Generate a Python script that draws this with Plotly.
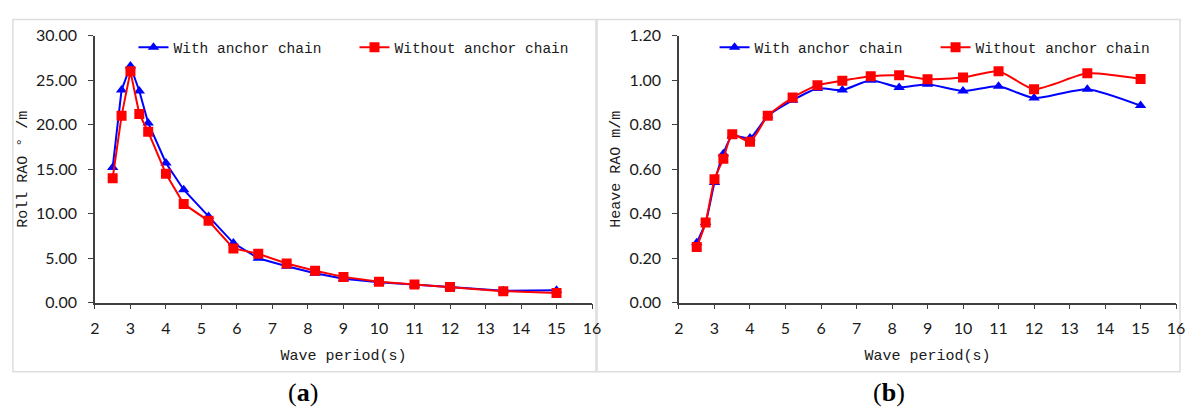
import plotly.graph_objects as go

period = [2.5, 2.75, 3, 3.25, 3.5, 4, 4.5, 5.2, 5.9, 6.6, 7.4, 8.2, 9, 10, 11, 12, 13.5, 15]

roll_with = [15.2, 23.9, 26.6, 23.8, 20.2, 15.7, 12.7, 9.7, 6.7, 5.0, 4.1, 3.3, 2.7, 2.3, 2.0, 1.75, 1.35, 1.4]
roll_without = [14.0, 21.0, 26.0, 21.2, 19.2, 14.5, 11.1, 9.2, 6.1, 5.5, 4.4, 3.6, 2.9, 2.35, 2.05, 1.75, 1.3, 1.1]

heave_with = [0.27, 0.36, 0.54, 0.67, 0.75, 0.74, 0.84, 0.91, 0.963, 0.956, 1.0, 0.968, 0.982, 0.952, 0.973, 0.92, 0.96, 0.886]
heave_without = [0.25, 0.36, 0.555, 0.647, 0.757, 0.724, 0.84, 0.922, 0.978, 0.998, 1.018, 1.022, 1.005, 1.012, 1.04, 0.96, 1.031, 1.006]

names = ["With anchor chain", "Without anchor chain"]
x_ticks = list(range(2, 17))
roll_ticks = [0, 5, 10, 15, 20, 25, 30]
heave_ticks = [0, 0.2, 0.4, 0.6, 0.8, 1.0, 1.2]

W, H = 1192, 416
BLUE = "#0000FF"
RED = "#FF0000"
MONO = "Liberation Mono, DejaVu Sans Mono, monospace"
TICKF = "Lato, Open Sans, sans-serif"
TXT = "#1a1a1a"

fig = go.Figure()

# Panel (a)
fig.add_trace(go.Scatter(x=period, y=roll_with, name=names[0], mode="lines+markers",
                         line=dict(color=BLUE, width=2), marker=dict(symbol="triangle-up", size=10, color=BLUE),
                         xaxis="x", yaxis="y", legend="legend"))
fig.add_trace(go.Scatter(x=period, y=roll_without, name=names[1], mode="lines+markers",
                         line=dict(color=RED, width=2), marker=dict(symbol="square", size=10, color=RED),
                         xaxis="x", yaxis="y", legend="legend"))
# Panel (b)
fig.add_trace(go.Scatter(x=period, y=heave_with, name=names[0], mode="lines+markers",
                         line=dict(color=BLUE, width=2, shape="spline", smoothing=0.6),
                         marker=dict(symbol="triangle-up", size=10, color=BLUE),
                         xaxis="x2", yaxis="y2", legend="legend2"))
fig.add_trace(go.Scatter(x=period, y=heave_without, name=names[1], mode="lines+markers",
                         line=dict(color=RED, width=2, shape="spline", smoothing=0.6),
                         marker=dict(symbol="square", size=10, color=RED),
                         xaxis="x2", yaxis="y2", legend="legend2"))

def px(v):
    return v / W

def py(v):
    return 1 - v / H

axis_common = dict(showgrid=False, zeroline=False, showline=True, linecolor="#404040", linewidth=1.5,
                   ticks="outside", ticklen=5, tickwidth=1.2, tickcolor="#404040",
                   tickfont=dict(family=TICKF, size=16, color=TXT), fixedrange=True)

ydom = [py(306.7), py(27)]
title_font = dict(family=MONO, size=15, color=TXT)

fig.update_layout(
    width=W, height=H,
    margin=dict(l=0, r=0, t=0, b=0),
    paper_bgcolor="white", plot_bgcolor="white",
    xaxis=dict(domain=[px(91), px(594)], range=[2, 16], tickvals=x_ticks, anchor="y", ticklabelstandoff=5,
               title=dict(text="Wave period(s)", font=title_font, standoff=14),
               **axis_common),
    yaxis=dict(domain=ydom, range=[0, 30], tickvals=roll_ticks, tickformat=".2f", anchor="x", ticklabelstandoff=8,
               title=dict(text="Roll RAO ° /m", font=title_font, standoff=5),
               **axis_common),
    xaxis2=dict(domain=[px(682), px(1185)], range=[2, 16], tickvals=x_ticks, anchor="y2", ticklabelstandoff=5,
                title=dict(text="Wave period(s)", font=title_font, standoff=14),
                **axis_common),
    yaxis2=dict(domain=ydom, range=[0, 1.2], tickvals=heave_ticks, tickformat=".2f", anchor="x2", ticklabelstandoff=8,
                title=dict(text="Heave RAO m/m", font=title_font, standoff=5),
                **axis_common),
    legend=dict(orientation="h", x=px(130), y=py(39), xanchor="left", yanchor="middle",
                font=dict(family=MONO, size=14.5, color=TXT), bgcolor="rgba(0,0,0,0)",
                entrywidth=176, entrywidthmode="pixels", itemwidth=30),
    legend2=dict(orientation="h", x=px(718), y=py(39), xanchor="left", yanchor="middle",
                 font=dict(family=MONO, size=14.5, color=TXT), bgcolor="rgba(0,0,0,0)",
                 entrywidth=176, entrywidthmode="pixels", itemwidth=30),
    shapes=[
        dict(type="rect", xref="paper", yref="paper", x0=px(8), x1=px(598), y0=py(379), y1=py(10),
             line=dict(color="#DDDDDD", width=1.5), layer="below"),
        dict(type="rect", xref="paper", yref="paper", x0=px(599), x1=px(1189), y0=py(379), y1=py(10),
             line=dict(color="#DDDDDD", width=1.5), layer="below"),
    ],
    annotations=[
        dict(text="(<b>a</b>)", xref="paper", yref="paper", x=px(302), y=py(401), showarrow=False,
             font=dict(family="Liberation Serif, serif", size=26, color="black"), xanchor="center", yanchor="middle"),
        dict(text="(<b>b</b>)", xref="paper", yref="paper", x=px(895), y=py(401), showarrow=False,
             font=dict(family="Liberation Serif, serif", size=26, color="black"), xanchor="center", yanchor="middle"),
    ],
)

fig.write_html("out.html")
